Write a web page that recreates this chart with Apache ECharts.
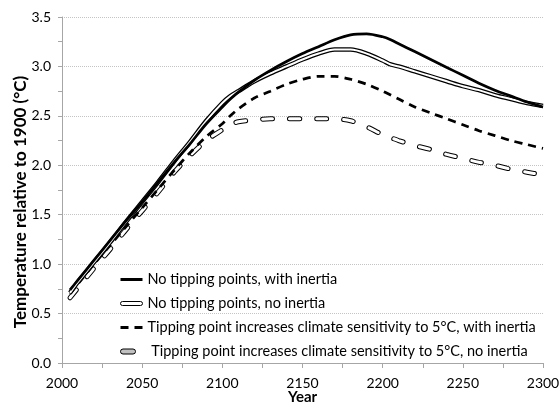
<!DOCTYPE html>
<html>
<head>
<meta charset="utf-8">
<script src="https://cdn.jsdelivr.net/npm/echarts@6/dist/echarts.min.js"></script>
<style>
  html, body { margin: 0; padding: 0; background: #fff; }
  #chart { width: 559px; height: 406px; }
</style>
</head>
<body>
<div id="chart"></div>
<script>
// years shared by all four runs
var years = [2005, 2010, 2020, 2030, 2040, 2050, 2060, 2070, 2080, 2090, 2100, 2105, 2110, 2120, 2130, 2140, 2150,
  2160, 2170, 2180, 2190, 2200, 2205, 2210, 2220, 2230, 2240, 2250, 2260, 2270, 2280, 2290, 2300];

// No tipping points, with inertia
var noTipInertia = [0.74, 0.84, 1.04, 1.24, 1.44, 1.63, 1.83, 2.03, 2.22, 2.42, 2.59, 2.67, 2.74, 2.86, 2.96, 3.05, 3.13,
  3.20, 3.27, 3.32, 3.33, 3.30, 3.27, 3.23, 3.15, 3.07, 2.99, 2.91, 2.83, 2.76, 2.70, 2.64, 2.59];
// No tipping points, no inertia
var noTipNoInertia = [0.71, 0.82, 1.02, 1.22, 1.43, 1.63, 1.83, 2.04, 2.24, 2.45, 2.63, 2.70, 2.75, 2.85, 2.93, 3.00, 3.07,
  3.13, 3.17, 3.17, 3.13, 3.06, 3.02, 3.00, 2.95, 2.90, 2.85, 2.80, 2.76, 2.71, 2.67, 2.63, 2.60];
// Tipping point -> sensitivity 5°C, with inertia
var tipInertia = [0.70, 0.80, 1.00, 1.19, 1.38, 1.57, 1.76, 1.95, 2.13, 2.29, 2.42, 2.50, 2.57, 2.68, 2.75, 2.82, 2.87,
  2.90, 2.90, 2.87, 2.82, 2.75, 2.71, 2.67, 2.59, 2.53, 2.47, 2.41, 2.35, 2.30, 2.25, 2.21, 2.17];
// Tipping point -> sensitivity 5°C, no inertia
var tipNoInertia = [0.66, 0.76, 0.96, 1.15, 1.35, 1.54, 1.73, 1.93, 2.10, 2.25, 2.36, 2.41, 2.44, 2.46, 2.47, 2.47, 2.47,
  2.47, 2.47, 2.45, 2.39, 2.31, 2.28, 2.25, 2.20, 2.16, 2.11, 2.07, 2.03, 2.00, 1.96, 1.93, 1.90];

var names = [
  'No tipping points, with inertia',
  'No tipping points, no inertia',
  'Tipping point increases climate sensitivity to 5°C, with inertia',
  ' Tipping point increases climate sensitivity to 5°C, no inertia'
];

function pairs(vals) {
  var out = [];
  for (var i = 0; i < years.length; i++) {
    out.push([years[i], vals[i]]);
  }
  return out;
}

var FONT = 'Lato';

var chart = echarts.init(document.getElementById('chart'), null, { renderer: 'canvas' });

function lineSeries(name, vals, width, color, dash, cap) {
  return {
    name: name,
    type: 'line',
    data: pairs(vals),
    smooth: 0.3,
    symbol: 'none',
    silent: true,
    lineStyle: {
      width: width,
      color: color,
      type: dash || 'solid',
      cap: cap || 'butt'
    },
    itemStyle: { color: '#000' },
    emphasis: { disabled: true }
  };
}

chart.setOption({
  animation: false,
  textStyle: { fontFamily: FONT },
  grid: { left: 62, right: 16, top: 17, bottom: 43, containLabel: false, outerBoundsMode: 'none' },
  legend: {
    orient: 'vertical',
    left: 120,
    top: 272,
    padding: 0,
    itemWidth: 22,
    itemHeight: 13,
    itemGap: 9,
    selectedMode: false,
    textStyle: { fontFamily: FONT, fontSize: 14.5, color: '#000' },
    data: [
      { name: names[0], icon: 'path://M0,0H22V3H0Z', itemStyle: { color: '#000', borderWidth: 0 } },
      { name: names[1], icon: 'path://M2,0H20A2,2 0 0 1 20,4H2A2,2 0 0 1 2,0Z',
        itemStyle: { color: '#fff', borderColor: '#000', borderWidth: 1 } },
      { name: names[2], icon: 'path://M0,0H8V3H0Z M14,0H22V3H14Z', itemStyle: { color: '#000', borderWidth: 0 } },
      { name: names[3], icon: 'path://M2.5,0H12.5A2.5,2.5 0 0 1 12.5,5H2.5A2.5,2.5 0 0 1 2.5,0Z M22,2.5L22,2.5',
        itemStyle: { color: '#c0c0c0', borderColor: '#000', borderWidth: 1 } }
    ]
  },
  xAxis: {
    type: 'value',
    min: 2000,
    max: 2300,
    interval: 50,
    name: 'Year',
    nameLocation: 'middle',
    nameGap: 27,
    nameMoveOverlap: false,
    nameTextStyle: { fontFamily: FONT, fontSize: 15, fontWeight: 'bold', color: '#000' },
    axisLine: { show: true, lineStyle: { color: '#a6a6a6', width: 1 } },
    axisTick: { show: true, length: 5, lineStyle: { color: '#a6a6a6' } },
    minorTick: { show: true, splitNumber: 2, length: 5, lineStyle: { color: '#a6a6a6' } },
    axisLabel: {
      fontFamily: FONT, fontSize: 14, color: '#000', margin: 13,
      formatter: function (v) { return String(v); }
    },
    splitLine: { show: false }
  },
  yAxis: {
    type: 'value',
    min: 0,
    max: 3.5,
    interval: 0.5,
    name: 'Temperature relative to 1900 (°C)',
    nameLocation: 'middle',
    nameGap: 33,
    nameMoveOverlap: false,
    nameRotate: 90,
    nameTextStyle: {
      fontFamily: FONT, fontSize: 17, fontWeight: 'bold', color: '#000',
      padding: [0, 24, 0, 0]
    },
    axisLine: { show: true, lineStyle: { color: '#a6a6a6', width: 1 } },
    axisTick: { show: true, length: 4, lineStyle: { color: '#a6a6a6' } },
    minorTick: { show: true, splitNumber: 2, length: 4, lineStyle: { color: '#a6a6a6' } },
    axisLabel: {
      fontFamily: FONT, fontSize: 14, color: '#000', margin: 11,
      formatter: function (v) { return v.toFixed(1); }
    },
    splitLine: { show: true, lineStyle: { color: '#c4c4c4', type: [1, 1], width: 1 } }
  },
  series: [
    lineSeries(names[3], tipNoInertia, 5, '#000', [10, 17], 'round'),
    lineSeries(names[3], tipNoInertia, 3, '#fff', [10, 17], 'round'),
    lineSeries(names[2], tipInertia, 2.75, '#000', [8, 6]),
    lineSeries(names[1], noTipNoInertia, 4.5, '#000'),
    lineSeries(names[1], noTipNoInertia, 2, '#fff'),
    lineSeries(names[0], noTipInertia, 2.75, '#000')
  ]
});
</script>
</body>
</html>
